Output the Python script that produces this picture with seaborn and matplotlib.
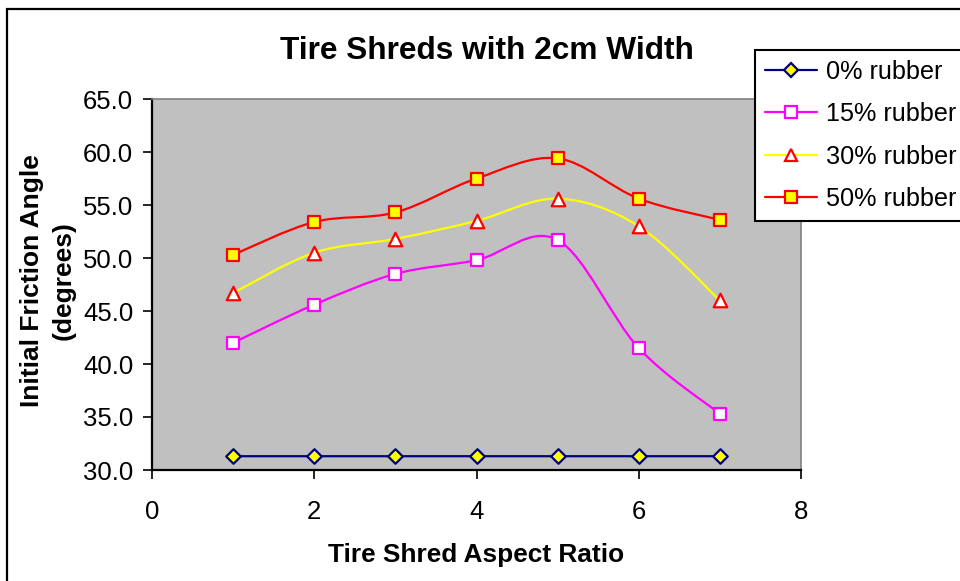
import numpy as np
import pandas as pd
import matplotlib
matplotlib.use("Agg")
import matplotlib.pyplot as plt
from matplotlib.path import Path
from matplotlib.patches import PathPatch, Rectangle
from matplotlib.lines import Line2D
import seaborn as sns

aspect_ratio = [1, 2, 3, 4, 5, 6, 7]
rubber_0 = [31.3, 31.3, 31.3, 31.3, 31.3, 31.3, 31.3]
rubber_15 = [42.0, 45.6, 48.5, 49.8, 51.7, 41.5, 35.3]
rubber_30 = [46.7, 50.5, 51.8, 53.5, 55.6, 53.0, 46.0]
rubber_50 = [50.3, 53.4, 54.3, 57.5, 59.4, 55.6, 53.6]
series_names = ["0% rubber", "15% rubber", "30% rubber", "50% rubber"]
y_ticks = [30.0, 35.0, 40.0, 45.0, 50.0, 55.0, 60.0, 65.0]
x_ticks = [0, 2, 4, 6, 8]

sns.set_style("white")
plt.rcParams['font.family'] = ['Liberation Sans', 'DejaVu Sans']
plt.rcParams['text.color'] = 'black'
plt.rcParams['axes.labelcolor'] = 'black'
plt.rcParams['xtick.color'] = 'black'
plt.rcParams['ytick.color'] = 'black'

fig = plt.figure(figsize=(9.6, 5.81), dpi=100)
ax = fig.add_axes([152/960, 1-470/581, (801-152)/960, (470-99)/581])
ax.set_facecolor("#C0C0C0")

styles = [
    dict(line="#000080", marker="D", face="#FFFF00", edge="#000080", size=55),
    dict(line="#FF00FF", marker="s", face="#FFFFFF", edge="#FF00FF", size=70),
    dict(line="#FFFF00", marker="^", face="#FFFFFF", edge="#FF0000", size=95),
    dict(line="#FF0000", marker="s", face="#FFFF00", edge="#FF0000", size=70),
]
all_series = [rubber_0, rubber_15, rubber_30, rubber_50]


def smooth_path(xs, ys):
    pts = np.column_stack([xs, ys]).astype(float)
    n = len(pts)
    verts = [pts[0]]
    codes = [Path.MOVETO]
    for i in range(n - 1):
        p0 = pts[i - 1] if i > 0 else pts[i]
        p1 = pts[i]
        p2 = pts[i + 1]
        p3 = pts[i + 2] if i + 2 < n else pts[i + 1]
        c1 = p1 + (p2 - p0) / 6.0
        c2 = p2 - (p3 - p1) / 6.0
        verts += [c1, c2, p2]
        codes += [Path.CURVE4] * 3
    return Path(verts, codes)


handles = []
for name, vals, st in zip(series_names, all_series, styles):
    df = pd.DataFrame({"x": aspect_ratio, "y": vals})
    patch = PathPatch(smooth_path(df["x"], df["y"]), facecolor="none",
                      edgecolor=st["line"], lw=1.6, zorder=2)
    ax.add_patch(patch)
    sns.scatterplot(data=df, x="x", y="y", ax=ax, marker=st["marker"],
                    color=st["face"], edgecolor=st["edge"], linewidth=1.6,
                    s=st["size"], zorder=3, legend=False)
    handles.append(Line2D([0], [0], color=st["line"], lw=1.6, marker=st["marker"],
                          markerfacecolor=st["face"], markeredgecolor=st["edge"],
                          markeredgewidth=1.6,
                          markersize=(st["size"] ** 0.5) * 0.95))

ax.set_xlim(0, 8)
ax.set_ylim(30, 65)
ax.set_xticks(x_ticks)
ax.set_yticks(y_ticks)
ax.set_yticklabels([f"{v:.1f}" for v in y_ticks])
ax.tick_params(axis="both", labelsize=18.5, length=6.5, width=1.2, direction="out",
               bottom=True, left=True, colors="black")
ax.tick_params(axis="y", pad=7)
ax.tick_params(axis="x", pad=15)
for side in ["top", "right"]:
    ax.spines[side].set_color("#808080")
    ax.spines[side].set_linewidth(1.2)
for side in ["bottom", "left"]:
    ax.spines[side].set_color("black")
    ax.spines[side].set_linewidth(1.6)

ax.set_xlabel("Tire Shred Aspect Ratio", fontsize=18.9, fontweight="bold", color="black")
ax.xaxis.set_label_coords((476 - 152) / 649, (470 - 555) / 371)
ax.xaxis.label.set_va("center")
ax.set_ylabel("Initial Friction Angle\n(degrees)", fontsize=19, fontweight="bold",
              linespacing=1.4, color="black")
ax.yaxis.set_label_coords((48 - 152) / 649, (470 - 281) / 371)
ax.yaxis.label.set_va("center")

fig.text(487/960, 1-51/581, "Tire Shreds with 2cm Width", fontsize=22.8,
         fontweight="bold", ha="center", va="center", color="black")

leg = fig.legend(handles, series_names, loc="upper left",
                 bbox_to_anchor=(755/960, 1-50/581), fontsize=18.2,
                 frameon=True, fancybox=False, edgecolor="black",
                 framealpha=1, labelspacing=0.72, handlelength=2.05,
                 handletextpad=0.35, borderpad=0.4, borderaxespad=0)
leg.get_frame().set_linewidth(1.5)
for t in leg.get_texts():
    t.set_color("black")

fig.patches.append(Rectangle((7/960, -0.05), 2.0, 1.05 - 9/581, transform=fig.transFigure,
                             fill=False, edgecolor="black", lw=1.6, zorder=0))

fig.savefig("out.png", dpi=100, facecolor="white")
